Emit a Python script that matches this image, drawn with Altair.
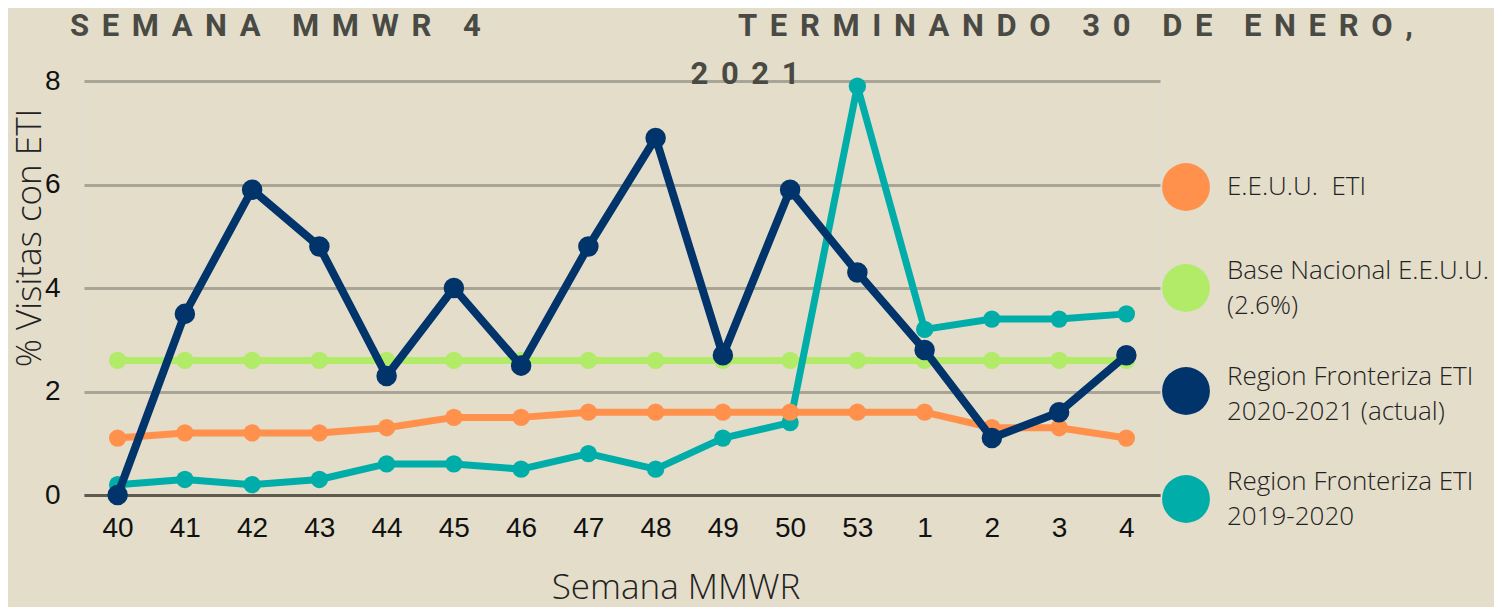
import altair as alt
import pandas as pd

# ---- data ----
weeks = ["40", "41", "42", "43", "44", "45", "46", "47", "48", "49", "50", "53", "1", "2", "3", "4"]
eeuu_eti = [1.1, 1.2, 1.2, 1.2, 1.3, 1.5, 1.5, 1.6, 1.6, 1.6, 1.6, 1.6, 1.6, 1.3, 1.3, 1.1]
base_nacional = [2.6, 2.6, 2.6, 2.6, 2.6, 2.6, 2.6, 2.6, 2.6, 2.6, 2.6, 2.6, 2.6, 2.6, 2.6, 2.6]
frontera_2021 = [0.0, 3.5, 5.9, 4.8, 2.3, 4.0, 2.5, 4.8, 6.9, 2.7, 5.9, 4.3, 2.8, 1.1, 1.6, 2.7]
frontera_2020 = [0.2, 0.3, 0.2, 0.3, 0.6, 0.6, 0.5, 0.8, 0.5, 1.1, 1.4, 7.9, 3.2, 3.4, 3.4, 3.5]

series_names = ["E.E.U.U.  ETI", "Base Nacional E.E.U.U. (2.6%)",
                "Region Fronteriza ETI 2020-2021 (actual)", "Region Fronteriza ETI 2019-2020"]
legend_lines = [["E.E.U.U.\u00a0\u00a0ETI"], ["Base Nacional E.E.U.U.", "\u00a0(2.6%)"],
                ["Region Fronteriza ETI", "2020-2021 (actual)"], ["Region Fronteriza ETI", "2019-2020"]]
series_colors = ["#FF914D", "#B1EB68", "#00346B", "#00ADA8"]
series_values = [eeuu_eti, base_nacional, frontera_2021, frontera_2020]

title_1 = "SEMANA MMWR 4"
title_2 = "TERMINANDO 30 DE ENERO,"
title_3 = "2021"
y_title = "% Visitas con ETI"
x_title = "Semana MMWR"

W, H = 1076, 414
BG = "#E3DDCA"
OX, OY = 84, 81  # plot-area origin on the page


def spaced(s):
    out = []
    for w in s.split(" "):
        out.append("\u2009\u2009".join(list(w)))
    return "\u2002\u2002".join(out)


x_enc = alt.X("week:N", sort=weeks, scale=alt.Scale(type="point", padding=0.5),
              axis=alt.Axis(title=None, labelAngle=0, labelFont="Liberation Sans", labelFontSize=28,
                            labelColor="#111111", labelPadding=19, ticks=False, domain=True,
                            domainColor="#5E5A50", domainWidth=3, grid=False))
y_enc = alt.Y("value:Q", scale=alt.Scale(domain=[0, 8], nice=False, zero=True),
              axis=alt.Axis(title=None, values=[0, 2, 4, 6, 8], labelFont="Liberation Sans",
                            labelFontSize=28, labelColor="#111111", labelPadding=24, ticks=False,
                            domain=False, grid=True, gridColor="#A8A496", gridWidth=3))

draw_order = [1, 3, 0, 2]  # green, teal, orange, navy
layers = []
for idx in draw_order:
    df = pd.DataFrame({"week": weeks, "value": series_values[idx], "serie": series_names[idx]})
    lw = 8 if idx == 2 else 7
    sz = 420 if idx == 2 else 300
    base = alt.Chart(df)
    layers.append(base.mark_line(color=series_colors[idx], strokeWidth=lw, strokeJoin="round")
                  .encode(x=x_enc, y=y_enc))
    layers.append(base.mark_circle(color=series_colors[idx], size=sz, opacity=1)
                  .encode(x=x_enc, y=y_enc))

# legend (custom)
leg_centers = [187, 288, 391, 499]
leg_text_first = [187, 271, 377, 482]
for i in range(4):
    one = pd.DataFrame({"serie": [series_names[i]]})
    layers.append(alt.Chart(one).mark_circle(color=series_colors[i], size=2290, opacity=1)
                  .encode(x=alt.value(1186 - OX), y=alt.value(leg_centers[i] - OY)))
    layers.append(alt.Chart(one).mark_text(text=legend_lines[i], align="left", baseline="middle",
                                           font="Open Sans", fontWeight=300, fontSize=26,
                                           lineHeight=35, color="#222222")
                  .encode(x=alt.value(1227 - OX), y=alt.value(leg_text_first[i] - OY)))

one = pd.DataFrame({"k": [0]})
tfont = dict(font="Roboto", fontWeight="bold", fontSize=31, color="#4A4A44", baseline="alphabetic")
# titles
layers.append(alt.Chart(one).mark_text(text=spaced(title_1), align="left", **tfont)
              .encode(x=alt.value(70 - OX), y=alt.value(36 - OY)))
layers.append(alt.Chart(one).mark_text(text=spaced(title_2), align="left", **tfont)
              .encode(x=alt.value(738 - OX), y=alt.value(36 - OY)))
layers.append(alt.Chart(one).mark_text(text=spaced(title_3), align="center", **tfont)
              .encode(x=alt.value(745 - OX), y=alt.value(84 - OY)))
# axis titles
layers.append(alt.Chart(one).mark_text(text=y_title, align="center", baseline="middle", angle=270,
                                       font="Open Sans", fontWeight=300, fontSize=35, color="#222222")
              .encode(x=alt.value(30 - OX), y=alt.value(238 - OY)))
layers.append(alt.Chart(one).mark_text(text=x_title, align="center", baseline="alphabetic",
                                       font="Open Sans", fontWeight=300, fontSize=35, color="#222222")
              .encode(x=alt.value(676 - OX), y=alt.value(599 - OY)))

chart = alt.layer(*layers).properties(
    width=W, height=H,
    autosize=alt.AutoSizeParams(type="none"),
    padding={"left": OX - 8, "top": OY - 8, "right": 334, "bottom": 112},
    background=BG,
).configure_view(stroke=None).configure(font="Liberation Sans")

chart.save("out.html", embed_options={"renderer": "svg", "actions": False})
